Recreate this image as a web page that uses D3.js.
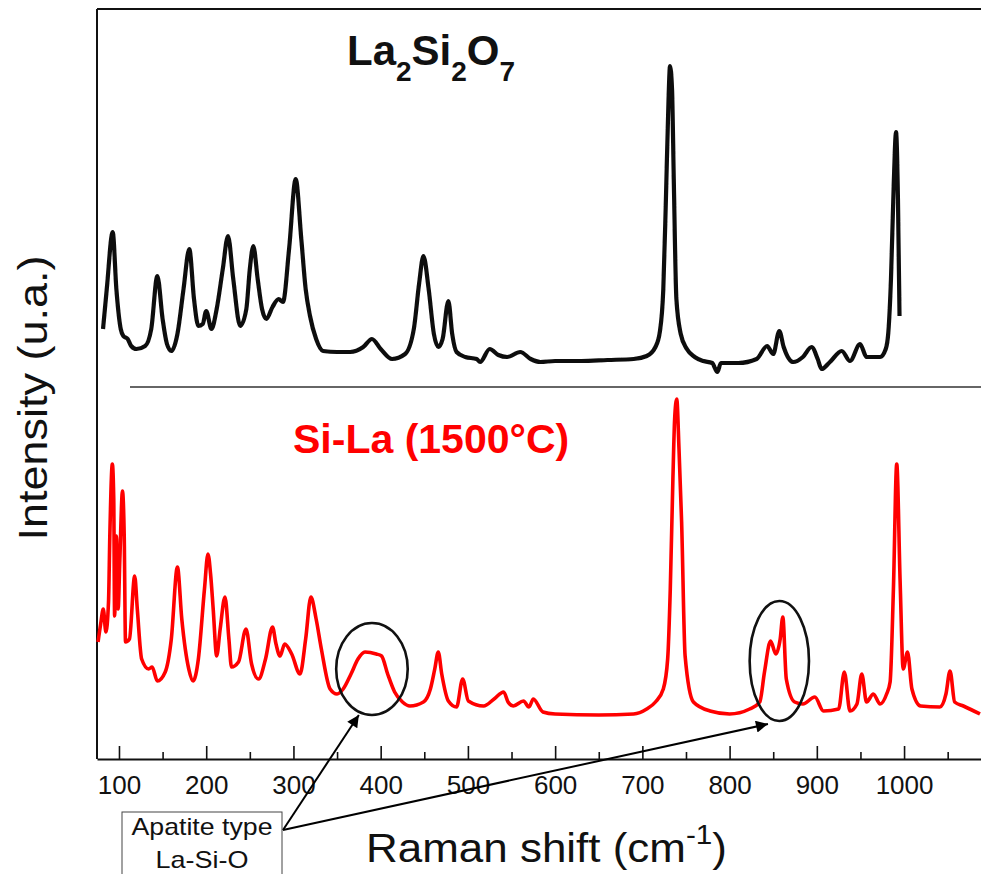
<!DOCTYPE html>
<html>
<head>
<meta charset="utf-8">
<script src="https://cdn.jsdelivr.net/npm/d3@7"></script>
<style>
  html, body { margin: 0; padding: 0; background: #fff; }
  svg { display: block; font-family: Arial, "Liberation Sans", sans-serif; }
</style>
</head>
<body>
<svg id="chart" width="981" height="874"></svg>
<script>
// ---- data (Raman shift in cm-1, intensity in arbitrary units) ----
const la2si2o7Shift = [81.7,86,92.8,97,102,105,110,114,120,130,137,144,150,155,160,167,174,180.6,186,191,196,200,206,212,219,225,231,239,246,250,254,259,264,269,276,283,288,295,302.6,309,314,319,326,334,350,365,380,390,400,413,428,438,444,449,455,461,466,471,477.6,482,487,497,510,514,525,535,545,560,572,583,600,630,660,690,705,715,720,724,727,730,731.7,734,736,739,744,751,760,770,780,786,790,810,831,843,850,857,862,873,884,894,901,905.5,915,928.6,938,949.6,957,972.5,979,982,985,988,990.8,993,994.8];
const la2si2o7Intensity = [430,470,527,470,430,423,420,413,410,413,430,483,440,415,408,425,470,510,460,433,435,448,430,450,490,523,480,433,450,490,513,480,450,440,452,460,457,510,580,520,470,443,420,408,407,407,412,420,410,400,405,430,475,503,470,425,412,420,458,425,407,402,400,397,410,404,402,407,400,397,398,398,399,400,403,412,427,470,560,660,693,670,580,460,425,410,402,398,396,387,396,396,400,413,405,428,412,397,402,412,400,390,397,408,398,415,402,402,410,427,480,570,627,560,443];

const siLaShift = [76,79,82,85,88,89.5,92.4,94,95,97,99,101,104,106,107.5,112,118,121,126,134,138,144,153,160,167,172,180,185,191,198,202,205,208,212,216,221.5,226,229,237,245.6,252,260,268,276,280,284.6,290,298,307.5,314,320,326,332,342,350,357,366,374,382,395,401,408,416,425,433.6,449,457,462,466,470,477.6,487,494,500.5,518,530,541,546,552,563.7,570,575,586,600,650,690,705,715,724,729,732,735,737,739.4,742,745,749,758.5,777.6,800,823,834.6,840,847,853,858,861,865,874.6,884,897.7,907.6,925,931.5,938,946,951.5,957,964.8,972.5,980,984,987.8,991.6,995.5,999,1004,1009,1019,1041,1048,1052.7,1058,1068,1087];
const siLaIntensity = [117,135,150,127,157,223,295,260,143,223,150,200,268,223,117,120,183,150,100,90,92,78,87,120,192,140,90,78,100,170,205,185,150,103,130,162,120,92,97,130,95,80,100,132,115,103,115,105,85,120,162,140,110,70,65,70,85,100,107,105,103,85,67,57,53,57,70,90,107,85,58,52,80,58,53,60,67,57,53,58,52,60,47,45,44,45,50,57,70,100,170,280,340,360,310,237,103,57,48,45,50,57,87,118,105,120,142,80,57,55,62,48,50,87,48,55,85,57,65,55,65,77,170,295,177,90,107,70,53,52,65,88,57,53,45];

const majorTicks = [100,200,300,400,500,600,700,800,900,1000];
const minorTicks = [150,250,350,450,550,650,750,850,950,1050];

const labelRed = "Si-La (1500°C)";
const xTitle = "Raman shift (cm";
const yTitle = "Intensity (u.a.)";
const noteLines = ["Apatite type", "La-Si-O"];

// circled apatite regions: centre shift, centre intensity, half-width (cm-1), half-height (a.u.)
const apatiteCenters = [390, 857];
const apatiteLevels = [90, 98];
const apatiteHalfWidths = [41, 34];
const apatiteHalfHeights = [46, 60];
// arrow tips (shift, intensity)
const arrowShifts = [375, 844];
const arrowLevels = [44, 35];

// ---- layout ----
const svg = d3.select("#chart");
const mLeft = 97, mRight = 981, mTop = 9, mBottom = 759;

const x = d3.scaleLinear().domain([74.8, 1088.2]).range([mLeft, mRight]);
const y = d3.scaleLinear().domain([0, 750]).range([mBottom, mTop]);

const defs = svg.append("defs");
defs.append("filter").attr("id", "soft")
  .append("feGaussianBlur").attr("stdDeviation", 0.7);
defs.append("marker").attr("id", "arrow")
  .attr("viewBox", "0 0 10 10").attr("refX", 10).attr("refY", 5)
  .attr("markerWidth", 17).attr("markerHeight", 12).attr("markerUnits", "userSpaceOnUse")
  .attr("orient", "auto")
  .append("path").attr("d", "M0,0 L10,5 L0,10 Z").attr("fill", "#000");

// frame: left + top
svg.append("line").attr("x1", mLeft).attr("x2", mLeft).attr("y1", mTop).attr("y2", mBottom)
  .attr("stroke", "#111").attr("stroke-width", 2);
svg.append("line").attr("x1", mLeft).attr("x2", mRight).attr("y1", mTop).attr("y2", mTop)
  .attr("stroke", "#111").attr("stroke-width", 2);

// x axis
const gx = svg.append("g").attr("transform", `translate(0,${mBottom})`);
gx.call(d3.axisBottom(x).tickValues(majorTicks).tickSizeInner(-13).tickSizeOuter(0).tickPadding(17)
  .tickFormat(d3.format("d")));
gx.select(".domain").attr("stroke", "#111").attr("stroke-width", 2);
gx.selectAll(".tick line").attr("stroke", "#111").attr("stroke-width", 1.6);
gx.selectAll(".tick text").attr("font-size", 26).attr("fill", "#111")
  .attr("font-family", "Arial, 'Liberation Sans', sans-serif");
const gm = svg.append("g").attr("transform", `translate(0,${mBottom})`);
gm.call(d3.axisBottom(x).tickValues(minorTicks).tickSizeInner(-7).tickSizeOuter(0).tickFormat(""));
gm.select(".domain").remove();
gm.selectAll(".tick line").attr("stroke", "#111").attr("stroke-width", 1.6);

// separator line
svg.append("line").attr("x1", 130).attr("x2", mRight).attr("y1", 387).attr("y2", 387)
  .attr("stroke", "#333").attr("stroke-width", 1.5);

// spectra
const blackData = la2si2o7Shift.map((s, i) => [s, la2si2o7Intensity[i]]);
const redData = siLaShift.map((s, i) => [s, siLaIntensity[i]]);

svg.append("path").datum(blackData)
  .attr("d", d3.line().x(d => x(d[0])).y(d => y(d[1])).curve(d3.curveMonotoneX))
  .attr("fill", "none").attr("stroke", "#111").attr("stroke-width", 4.2)
  .attr("stroke-linejoin", "round").attr("filter", "url(#soft)");

svg.append("path").datum(redData)
  .attr("d", d3.line().x(d => x(d[0])).y(d => y(d[1])).curve(d3.curveMonotoneX))
  .attr("fill", "none").attr("stroke", "#ff0000").attr("stroke-width", 3.6)
  .attr("stroke-linejoin", "round");

// labels
const t1 = svg.append("text").attr("x", 347).attr("y", 65)
  .attr("font-size", 42).attr("font-weight", "bold").attr("fill", "#111");
t1.append("tspan").text("La");
t1.append("tspan").attr("font-size", 28).attr("dy", 16).text("2");
t1.append("tspan").attr("dy", -16).text("Si");
t1.append("tspan").attr("font-size", 28).attr("dy", 16).text("2");
t1.append("tspan").attr("dy", -16).text("O");
t1.append("tspan").attr("font-size", 28).attr("dy", 16).text("7");

svg.append("text").attr("x", 293).attr("y", 453)
  .attr("font-size", 41).attr("font-weight", "bold").attr("fill", "#ff0000")
  .text(labelRed);

// axis titles
const xt = svg.append("text").attr("x", 366).attr("y", 862)
  .attr("font-size", 40).attr("fill", "#111")
  .attr("textLength", 361).attr("lengthAdjust", "spacingAndGlyphs");
xt.append("tspan").text(xTitle);
xt.append("tspan").attr("font-size", 27).attr("dy", -18).text("-1");
xt.append("tspan").attr("dy", 18).text(")");

svg.append("text")
  .attr("transform", "translate(47,398) rotate(-90)")
  .attr("text-anchor", "middle")
  .attr("font-size", 41).attr("fill", "#111")
  .attr("textLength", 285).attr("lengthAdjust", "spacingAndGlyphs")
  .text(yTitle);

// ellipses around apatite peaks
apatiteCenters.forEach((c, i) => {
  svg.append("ellipse")
    .attr("cx", x(c)).attr("cy", y(apatiteLevels[i]))
    .attr("rx", x(c + apatiteHalfWidths[i]) - x(c))
    .attr("ry", y(0) - y(apatiteHalfHeights[i]))
    .attr("fill", "none").attr("stroke", "#111").attr("stroke-width", 2.6);
});

// annotation box
svg.append("rect").attr("x", 122).attr("y", 812).attr("width", 160).attr("height", 80)
  .attr("fill", "#fff").attr("stroke", "#444").attr("stroke-width", 1);
svg.append("text").attr("x", 202).attr("y", 835).attr("text-anchor", "middle")
  .attr("font-size", 24).attr("fill", "#111")
  .attr("textLength", 141).attr("lengthAdjust", "spacingAndGlyphs")
  .text(noteLines[0]);
svg.append("text").attr("x", 202).attr("y", 868).attr("text-anchor", "middle")
  .attr("font-size", 24).attr("fill", "#111")
  .attr("textLength", 93).attr("lengthAdjust", "spacingAndGlyphs")
  .text(noteLines[1]);

// arrows from box to ellipses
arrowShifts.forEach((s, i) => {
  svg.append("line").attr("x1", 283).attr("y1", 830)
    .attr("x2", x(s)).attr("y2", y(arrowLevels[i]))
    .attr("stroke", "#000").attr("stroke-width", 2)
    .attr("marker-end", "url(#arrow)");
});
</script>
</body>
</html>
